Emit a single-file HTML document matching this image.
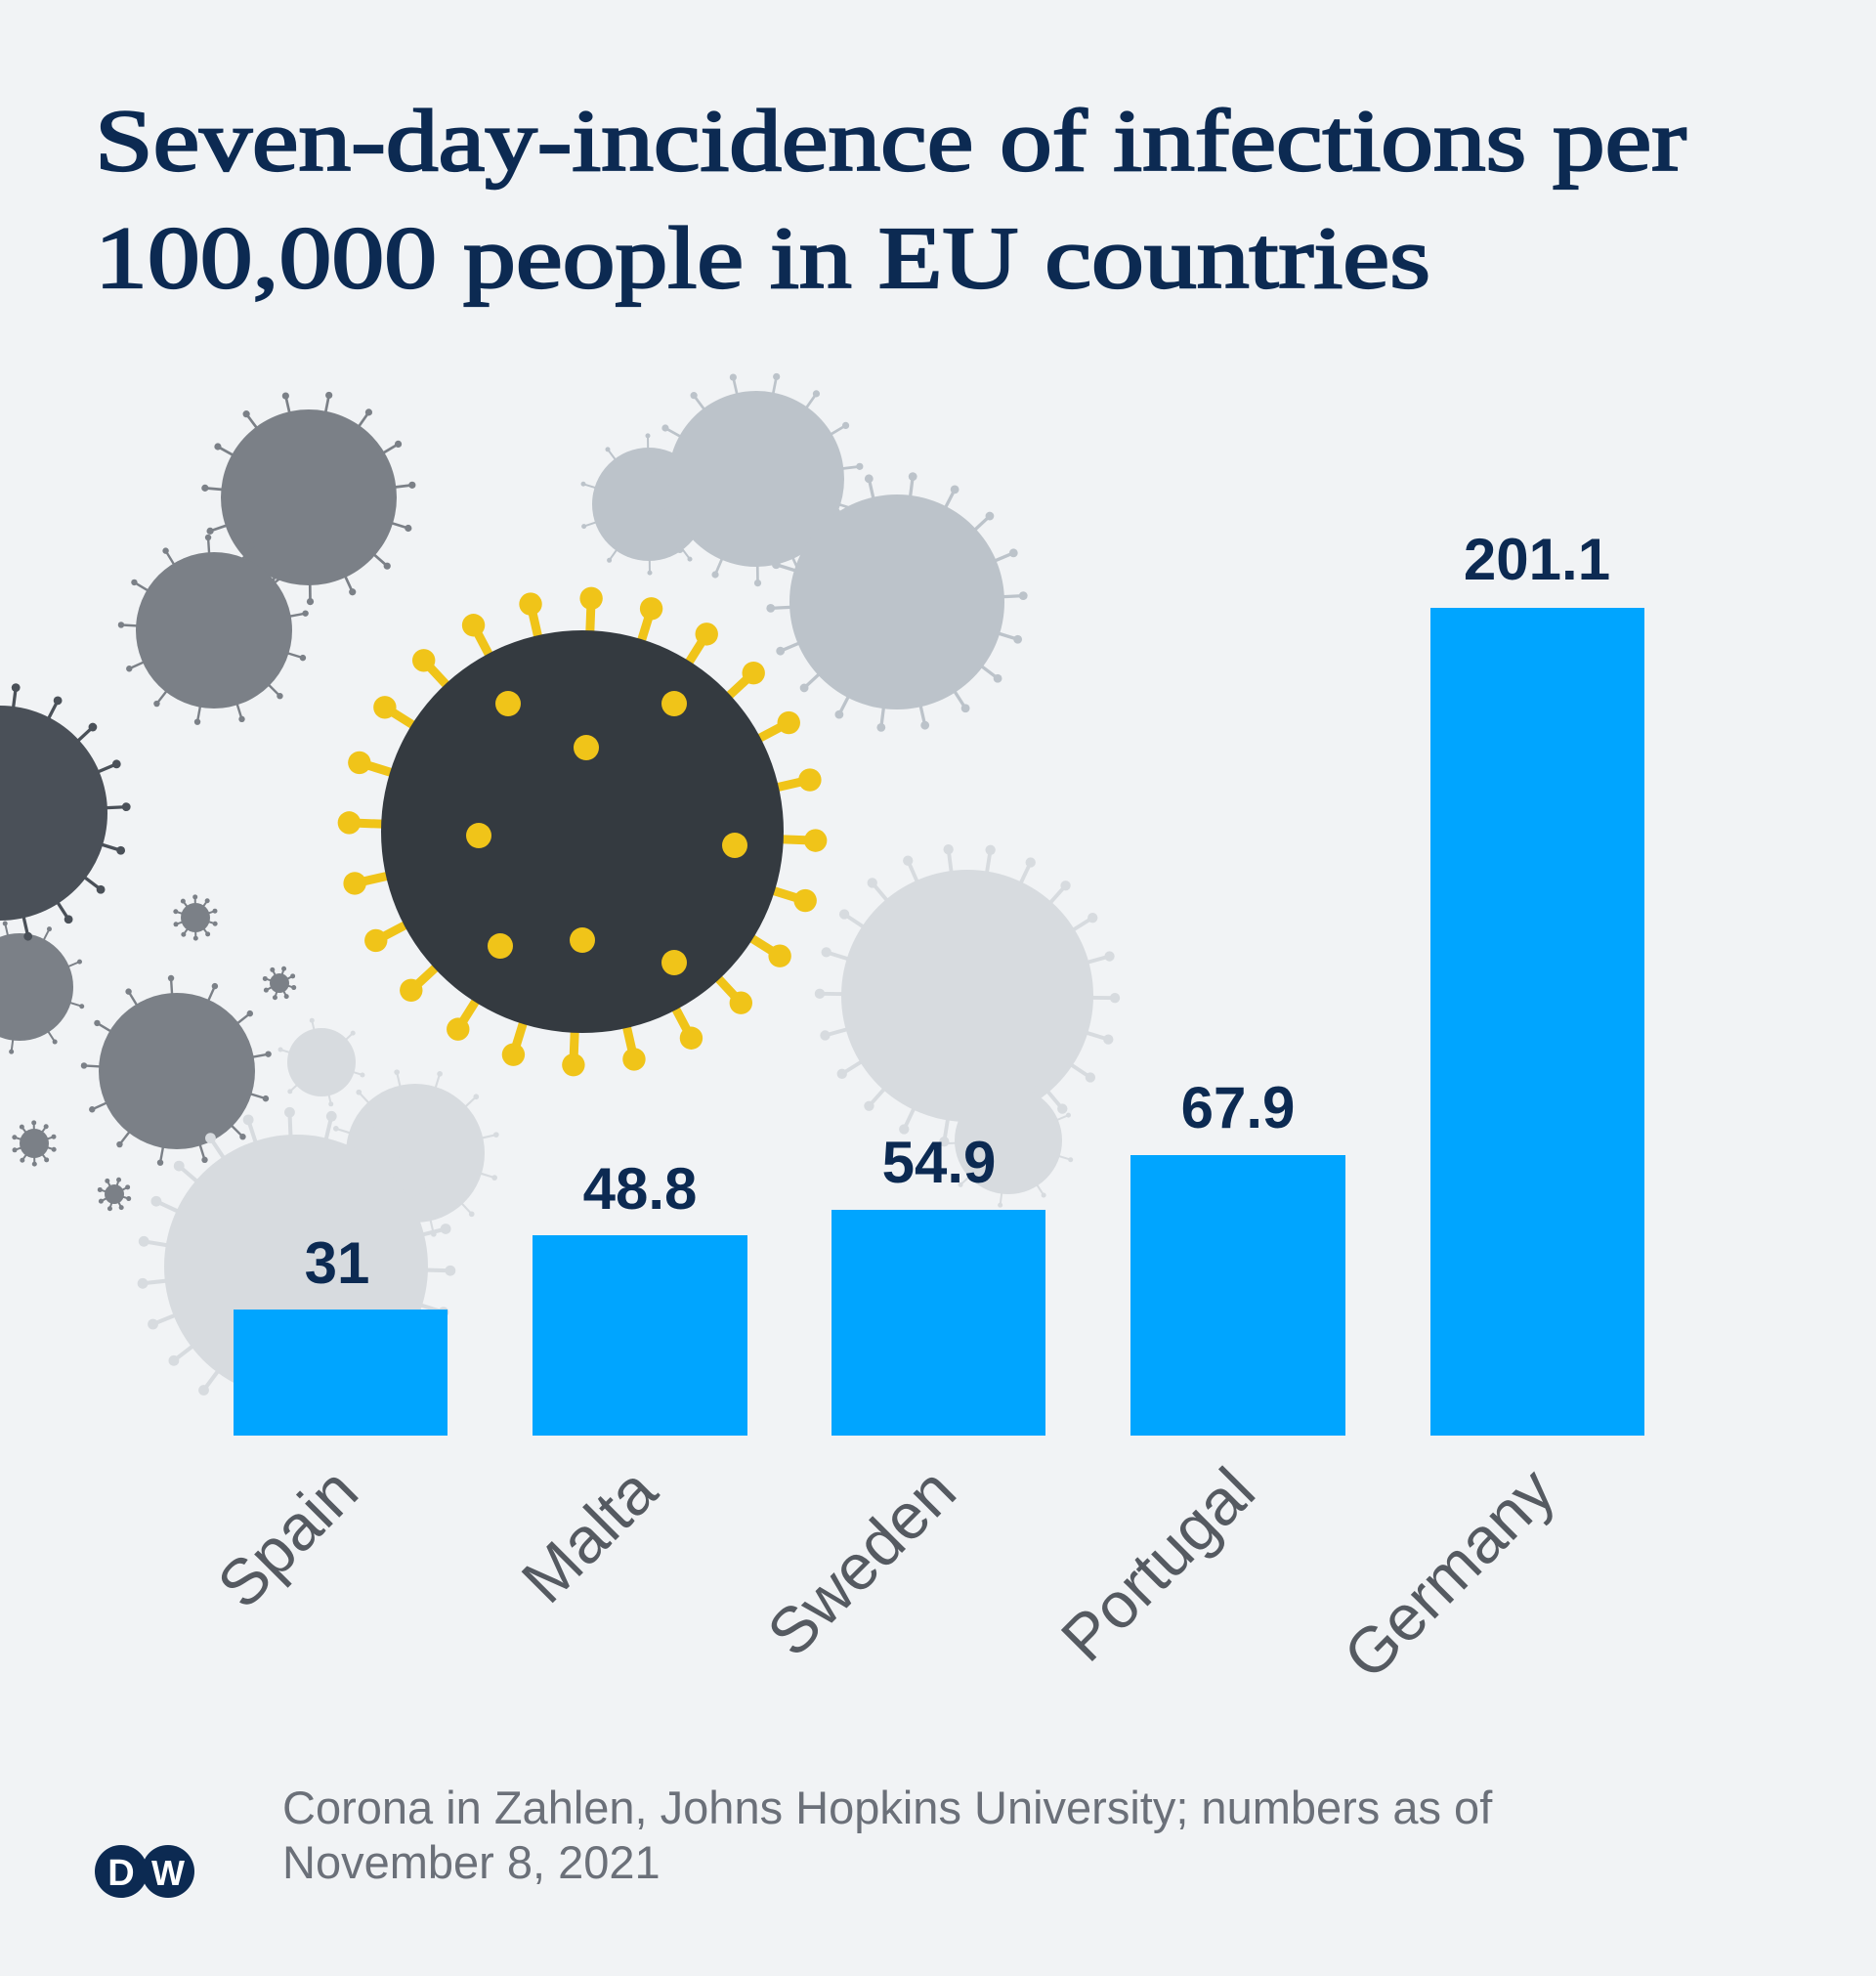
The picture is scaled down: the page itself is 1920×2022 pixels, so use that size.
<!DOCTYPE html>
<html><head><meta charset="utf-8"><style>
html,body{margin:0;padding:0;background:#f1f3f5;}
svg{display:block}
</style></head><body>
<svg id="s" width="1920" height="2022" viewBox="0 0 1920 2022" xmlns="http://www.w3.org/2000/svg">
<rect width="1920" height="2022" fill="#f1f3f5"/>
<g id="viruses"></g>
<text x="97" y="174" font-family="Liberation Serif, serif" font-size="90" fill="#0c2a52" stroke="#0c2a52" stroke-width="2.2" textLength="1629" lengthAdjust="spacingAndGlyphs">Seven-day-incidence of infections per</text>
<text x="97" y="294" font-family="Liberation Serif, serif" font-size="90" fill="#0c2a52" stroke="#0c2a52" stroke-width="2.2" textLength="1367" lengthAdjust="spacingAndGlyphs">100,000 people in EU countries</text>
<g fill="#00a5ff">
<rect x="239" y="1340" width="219" height="129"/>
<rect x="545" y="1264" width="220" height="205"/>
<rect x="851" y="1238" width="219" height="231"/>
<rect x="1157" y="1182" width="220" height="287"/>
<rect x="1464" y="622" width="219" height="847"/>
</g>
<g font-family="Liberation Sans, sans-serif" font-weight="bold" font-size="60" fill="#0c2a52" text-anchor="middle">
<text x="345" y="1313">31</text>
<text x="655" y="1237">48.8</text>
<text x="961" y="1210">54.9</text>
<text x="1267" y="1154">67.9</text>
<text x="1573" y="593">201.1</text>
</g>
<g font-family="Liberation Sans, sans-serif" font-size="66" fill="#555a61" text-anchor="end">
<text transform="translate(370,1530) rotate(-45)">Spain</text>
<text transform="translate(676,1530) rotate(-45)">Malta</text>
<text transform="translate(982,1530) rotate(-45)">Sweden</text>
<text transform="translate(1288,1530) rotate(-45)">Portugal</text>
<text transform="translate(1595,1530) rotate(-45)">Germany</text>
</g>
<g font-family="Liberation Sans, sans-serif" font-size="47" fill="#6b7079">
<text x="289" y="1866">Corona in Zahlen, Johns Hopkins University; numbers as of</text>
<text x="289" y="1922">November 8, 2021</text>
</g>
<g>
<circle cx="124" cy="1915" r="27" fill="#0c2a52"/>
<circle cx="172" cy="1915" r="27" fill="#0c2a52"/>
<text x="124" y="1929" font-family="Liberation Sans, sans-serif" font-weight="bold" font-size="38" fill="#fff" text-anchor="middle">D</text>
<text x="172" y="1929" font-family="Liberation Sans, sans-serif" font-weight="bold" font-size="36" fill="#fff" text-anchor="middle">W</text>
</g>
</svg>
<script>
var g=document.getElementById('viruses');
function v(cx,cy,r,c,sc,n,sw){
 var h='';var k=n||Math.round(r/6);
 for(var i=0;i<k;i++){var a=i/k*Math.PI*2+0.3;var x1=cx+Math.cos(a)*r*0.95,y1=cy+Math.sin(a)*r*0.95,x2=cx+Math.cos(a)*(r+r*0.14+4),y2=cy+Math.sin(a)*(r+r*0.14+4);
 h+='<line x1="'+x1+'" y1="'+y1+'" x2="'+x2+'" y2="'+y2+'" stroke="'+(sc||c)+'" stroke-width="'+(sw||Math.max(2,r*0.03))+'"/>';
 h+='<circle cx="'+x2+'" cy="'+y2+'" r="'+(sw?sw*1.3:Math.max(2.5,r*0.04))+'" fill="'+(sc||c)+'"/>';}
 h+='<circle cx="'+cx+'" cy="'+cy+'" r="'+r+'" fill="'+c+'"/>';
 g.insertAdjacentHTML('beforeend',h);}
v(316,509,90,'#7b8087');v(219,645,80,'#7b8087');
v(664,516,58,'#bcc3ca');v(774,490,90,'#bcc3ca');v(918,616,110,'#bcc3ca');
v(20,1010,55,'#7b8087');v(0,832,110,'#4a5058');
v(181,1096,80,'#7b8087');
v(990,1019,129,'#d7dbdf');v(1032,1167,55,'#d7dbdf');v(425,1180,71,'#d7dbdf');v(303,1296,135,'#d7dbdf');v(329,1087,35,'#d7dbdf');
v(200,939,15,'#7b8087',null,10);v(286,1006,10,'#7b8087',null,8);v(35,1170,15,'#7b8087',null,10);v(117,1222,10,'#7b8087',null,8);
v(596,851,206,'#343a40','#f0c419',24,9);
var h='';var pts=[[600,765],[490,855],[752,865],[596,962],[512,968],[690,985],[520,720],[690,720]];
pts.forEach(function(p){h+='<circle cx="'+p[0]+'" cy="'+p[1]+'" r="13" fill="#f0c419"/>';});
g.insertAdjacentHTML('beforeend',h);
</script>
</body></html>
